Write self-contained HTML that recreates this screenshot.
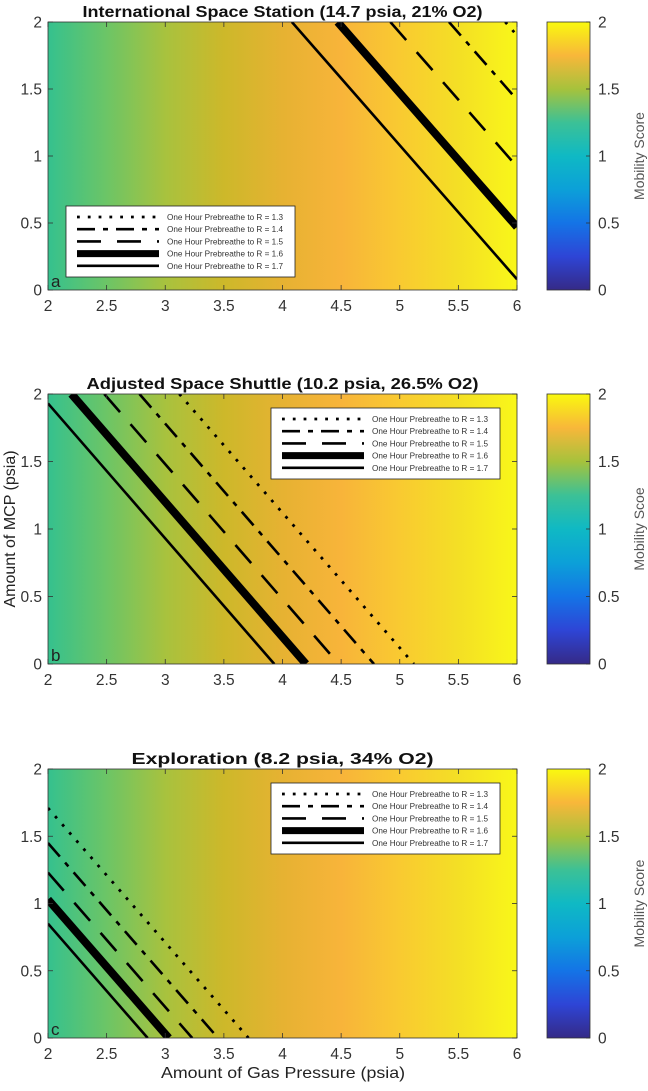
<!DOCTYPE html>
<html><head><meta charset="utf-8"><style>
body{margin:0;background:#fff;font-family:"Liberation Sans",sans-serif}
svg text{font-family:"Liberation Sans",sans-serif}
</style></head><body>
<svg id="fig" width="648" height="1086" viewBox="0 0 648 1086" xmlns="http://www.w3.org/2000/svg">
<defs>
<linearGradient id="bg" x1="0" y1="0" x2="1" y2="0">
<stop offset="0" stop-color="#35c18e"/><stop offset="0.125" stop-color="#6cc566"/>
<stop offset="0.25" stop-color="#a8c23e"/><stop offset="0.375" stop-color="#cdb82a"/>
<stop offset="0.5" stop-color="#e6b232"/><stop offset="0.625" stop-color="#f8b43a"/>
<stop offset="0.75" stop-color="#f9ca31"/><stop offset="0.875" stop-color="#f4df25"/>
<stop offset="1" stop-color="#f9f719"/></linearGradient>
<linearGradient id="cb" x1="0" y1="1" x2="0" y2="0">
<stop offset="0" stop-color="#352a87"/><stop offset="0.125" stop-color="#2e45d6"/>
<stop offset="0.25" stop-color="#1474e6"/><stop offset="0.375" stop-color="#0ca0d8"/>
<stop offset="0.5" stop-color="#0fb9c4"/><stop offset="0.625" stop-color="#3cc196"/>
<stop offset="0.75" stop-color="#a6c23c"/><stop offset="0.875" stop-color="#f8b73a"/>
<stop offset="1" stop-color="#f9f90f"/></linearGradient>
</defs>
</svg>
<script>
const panelTitles=["International Space Station (14.7 psia, 21% O2)","Adjusted Space Shuttle (10.2 psia, 26.5% O2)","Exploration (8.2 psia, 34% O2)"];
const panelLetters=["a","b","c"];
const cbLabels=["Mobility Score","Mobility Scoe","Mobility Score"];
const seriesNames=["One Hour Prebreathe to R = 1.3","One Hour Prebreathe to R = 1.4","One Hour Prebreathe to R = 1.5","One Hour Prebreathe to R = 1.6","One Hour Prebreathe to R = 1.7"];
// intercept c of line MCP = c - slope*(gas pressure)
const interceptsA=[7.9,7.42,6.92,6.47,6.08];
const interceptsB=[5.12,4.78,4.48,4.2,3.93];
const interceptsC=[3.71,3.45,3.23,3.03,2.85];
const slopes=[1.0,1.0,1.0];
const xTicks=[2,2.5,3,3.5,4,4.5,5,5.5,6];
const yTicks=[0,0.5,1,1.5,2];
const cbTicks=[0,0.5,1,1.5,2];
const allIntercepts=[interceptsA,interceptsB,interceptsC];
const NS="http://www.w3.org/2000/svg";
const svg=document.getElementById('fig');
function mk(tag,attrs,parent){const e=document.createElementNS(NS,tag);for(const k in attrs)e.setAttribute(k,attrs[k]);(parent||svg).appendChild(e);return e;}
const styles=[{w:2.8,d:"2.8 8"},{w:2.6,d:"18 8 5 8"},{w:2.6,d:"24 16"},{w:8,d:""},{w:2.6,d:""}];
const tops=[22,394,769];const heights=[268,270,269];
const legendGeo=[{x:66,y:206},{x:271,y:408},{x:271,y:783}];
const L=48,R=517,CBL=547,CBR=590;
const titleW=[400,392,302];
tops.forEach((T,p)=>{
  const H=heights[p],B=T+H;
  const sx=v=>L+(v-2)/4*(R-L), sy=v=>B-v/2*H;
  const g=mk('g',{});
  const clipId='clip'+p;const cp=mk('clipPath',{id:clipId},g);mk('rect',{x:L,y:T,width:R-L,height:H},cp);
  const bg=mk('rect',{x:L,y:T,width:R-L,height:H,fill:'url(#bg)'},g);
  
  const lg=mk('g',{'clip-path':'url(#'+clipId+')'},g);
  allIntercepts[p].forEach((c,i)=>{
    const s=slopes[p];
    const x1=Math.max(2,(c-2)/s), x2=Math.min(6,c/s);
    if(x1>=x2)return;
    const st=styles[i];
    const ln=mk('line',{x1:sx(x1),y1:sy(c-s*x1),x2:sx(x2),y2:sy(c-s*x2),stroke:'#000','stroke-width':st.w,'stroke-dasharray':st.d},lg);
    
    
  });
  mk('rect',{x:L,y:T,width:R-L,height:H,fill:'none',stroke:'#333','stroke-width':0.8},g);
  xTicks.forEach(v=>{const x=sx(v);mk('line',{x1:x,y1:B,x2:x,y2:B-5,stroke:'#333','stroke-width':0.8},g);mk('line',{x1:x,y1:T,x2:x,y2:T+5,stroke:'#333','stroke-width':0.8},g);
    const t=mk('text',{x:x,y:B+21,'text-anchor':'middle','font-size':15.5,fill:'#333'},g);t.textContent=v;});
  yTicks.forEach(v=>{const y=sy(v);mk('line',{x1:L,y1:y,x2:L+5,y2:y,stroke:'#333','stroke-width':0.8},g);mk('line',{x1:R,y1:y,x2:R-5,y2:y,stroke:'#333','stroke-width':0.8},g);
    const t=mk('text',{x:L-6,y:y+5.5,'text-anchor':'end','font-size':15.5,fill:'#333'},g);t.textContent=v;});
  const lt=mk('text',{x:L+3,y:B-3,'font-size':17,fill:'#222'},g);lt.textContent=panelLetters[p];
  const tt=mk('text',{x:(L+R)/2,y:T-5,'text-anchor':'middle','font-size':15.5,'font-weight':'bold',fill:'#111',textLength:titleW[p],lengthAdjust:'spacingAndGlyphs'},g);tt.textContent=panelTitles[p];
  const lgeo=legendGeo[p];
  const leg=mk('g',{},g);
  mk('rect',{x:lgeo.x,y:lgeo.y,width:229,height:71,fill:'#fff',stroke:'#222','stroke-width':0.8},leg);
  seriesNames.forEach((n,i)=>{const y=lgeo.y+11+i*12.2;const st=styles[i];
    const sl=mk('line',{x1:lgeo.x+11,y1:y,x2:lgeo.x+93,y2:y,stroke:'#000','stroke-width':st.w===8?7:st.w,'stroke-dasharray':st.d},leg);
    
    const t=mk('text',{x:lgeo.x+101,y:y+3,'font-size':8.7,fill:'#333',textLength:116,lengthAdjust:'spacingAndGlyphs'},leg);t.textContent=n;});
  const cb=mk('rect',{x:CBL,y:T,width:CBR-CBL,height:H,fill:'url(#cb)',stroke:'#333','stroke-width':0.8},g);
  
  cbTicks.forEach(v=>{const y=sy(v);mk('line',{x1:CBR,y1:y,x2:CBR-4,y2:y,stroke:'#333','stroke-width':0.8},g);
    const t=mk('text',{x:CBR+8,y:y+5.5,'font-size':15.5,fill:'#333'},g);t.textContent=v;});
  const cl=mk('text',{x:0,y:0,transform:'translate(644,'+(T+H/2)+') rotate(-90)','text-anchor':'middle','font-size':14,fill:'#555'},g);cl.textContent=cbLabels[p];
});
const ya=mk('text',{x:0,y:0,transform:'translate(15,529) rotate(-90)','text-anchor':'middle','font-size':16,fill:'#222'});ya.textContent='Amount of MCP (psia)';


const xa=mk('text',{x:283,y:1078,'text-anchor':'middle','font-size':16,fill:'#222',textLength:244,lengthAdjust:'spacingAndGlyphs'});xa.textContent='Amount of Gas Pressure (psia)';


</script>
</body></html>
